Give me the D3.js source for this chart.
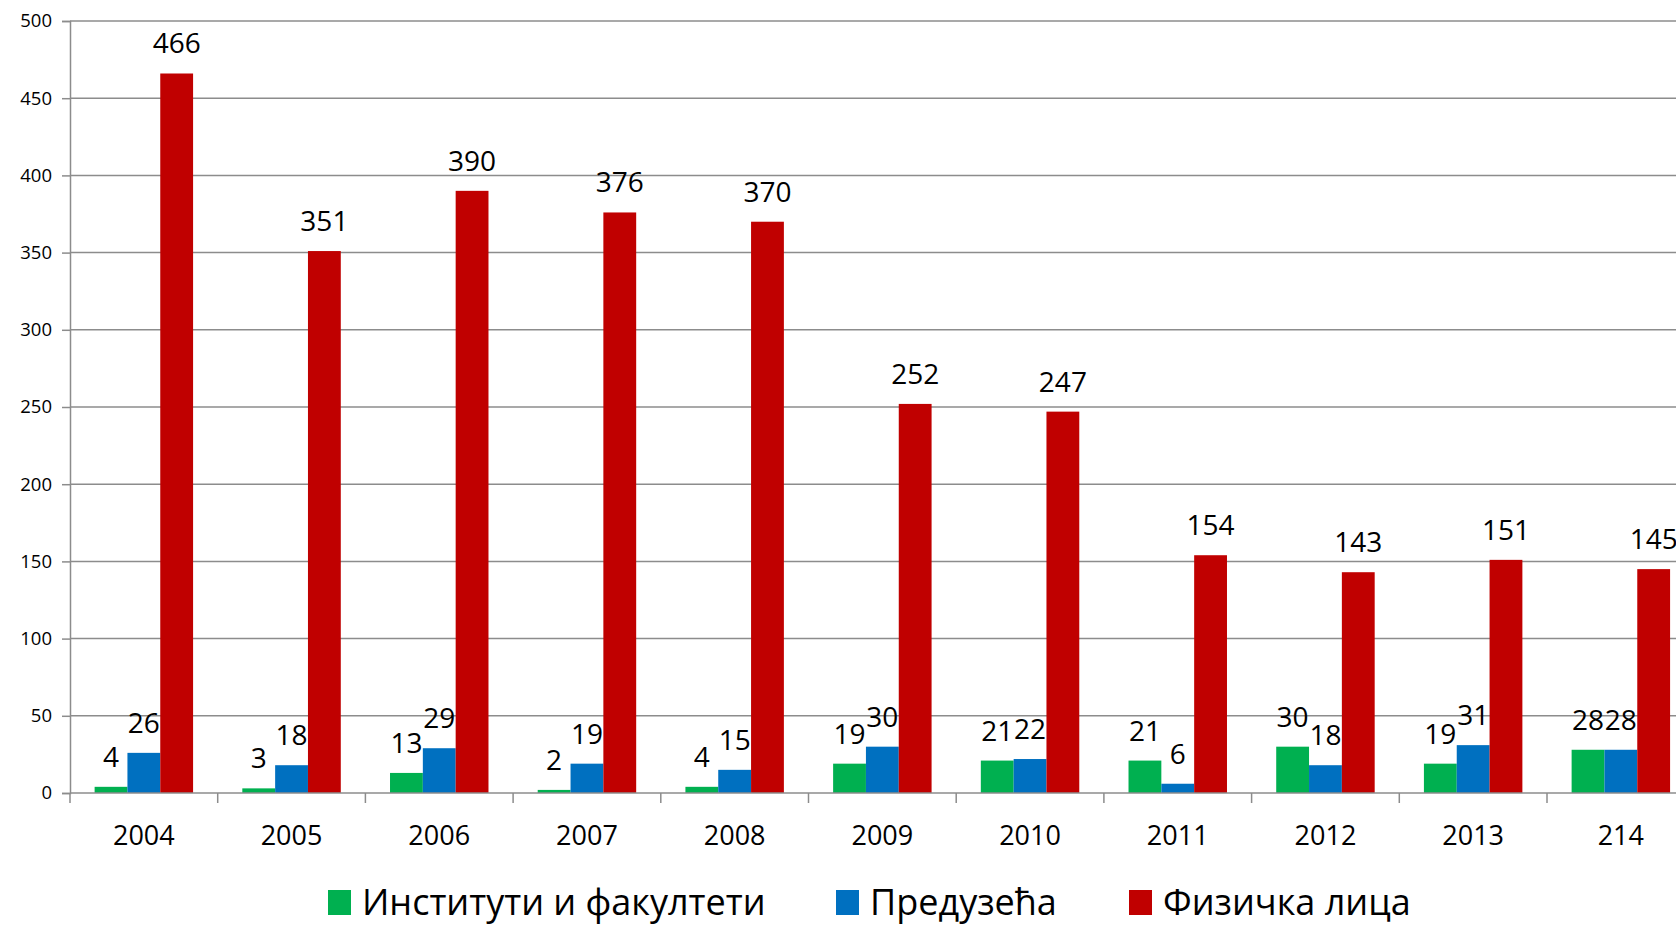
<!DOCTYPE html>
<html>
<head>
<meta charset="utf-8">
<script src="https://cdn.jsdelivr.net/npm/d3@7"></script>
<style>
  html, body { margin: 0; padding: 0; background: #fff; overflow: hidden; }
  svg { display: block; font-family: "Open Sans", sans-serif; }
</style>
</head>
<body>
<svg id="chart" width="1676" height="927"></svg>
<script>
var years = ["2004", "2005", "2006", "2007", "2008", "2009", "2010", "2011", "2012", "2013", "214"];
var seriesNames = ["Институти и факултети", "Предузећа", "Физичка лица"];
var institutes = [4, 3, 13, 2, 4, 19, 21, 21, 30, 19, 28];
var companies = [26, 18, 29, 19, 15, 30, 22, 6, 18, 31, 28];
var persons = [466, 351, 390, 376, 370, 252, 247, 154, 143, 151, 145];
var yTicks = [0, 50, 100, 150, 200, 250, 300, 350, 400, 450, 500];
var colors = ["#00b050", "#0070c0", "#c00000"];

var svg = d3.select("#chart"),
    left = 70,
    step = 147.7,
    plotTop = 21,
    plotBottom = 793;

var values = [institutes, companies, persons];

var x0 = d3.scaleBand().domain(years).range([left, left + step * years.length]),
    x1 = d3.scaleBand().domain(d3.range(3)).range([0, x0.bandwidth()]).paddingOuter(0.75),
    y = d3.scaleLinear().domain([0, 500]).range([plotBottom, plotTop]),
    color = d3.scaleOrdinal().domain(d3.range(3)).range(colors);

// gridlines
svg.append("g")
  .selectAll("line")
  .data(yTicks.slice(1))
  .join("line")
  .attr("x1", left).attr("x2", 1676)
  .attr("y1", function (d) { return y(d); })
  .attr("y2", function (d) { return y(d); })
  .attr("stroke", "#8c8c8c")
  .attr("stroke-width", 1.5);

// y axis
var yAxis = svg.append("g")
  .attr("transform", "translate(" + left + ",0)")
  .call(d3.axisLeft(y).tickValues(yTicks).tickSize(8).tickPadding(10));
yAxis.select(".domain").attr("stroke", "#8c8c8c").attr("stroke-width", 1.5);
yAxis.selectAll(".tick line").attr("stroke", "#8c8c8c").attr("stroke-width", 1.5);
yAxis.selectAll("text").attr("font-size", 18.5).attr("fill", "#000")
  .attr("font-family", "Open Sans");

// bars
var groups = svg.append("g")
  .selectAll("g")
  .data(years)
  .join("g")
  .attr("transform", function (d) { return "translate(" + x0(d) + ",0)"; });

groups.selectAll("rect")
  .data(function (d, i) { return values.map(function (s, k) { return {k: k, v: s[i]}; }); })
  .join("rect")
  .attr("x", function (d) { return x1(d.k); })
  .attr("width", x1.bandwidth())
  .attr("y", function (d) { return y(d.v); })
  .attr("height", function (d) { return plotBottom - y(d.v); })
  .attr("fill", function (d) { return color(d.k); });

groups.selectAll("text")
  .data(function (d, i) { return values.map(function (s, k) { return {k: k, v: s[i]}; }); })
  .join("text")
  .attr("x", function (d) { return x1(d.k) + x1.bandwidth() / 2; })
  .attr("y", function (d) { return y(d.v) - 20; })
  .attr("text-anchor", "middle")
  .attr("font-size", 28)
  .attr("fill", "#000")
  .text(function (d) { return d.v; });

// x axis
var xAxis = svg.append("g")
  .attr("transform", "translate(0," + plotBottom + ")");
xAxis.append("line")
  .attr("x1", left).attr("x2", 1676)
  .attr("stroke", "#8c8c8c").attr("stroke-width", 1.5);
xAxis.selectAll(".sep")
  .data(years)
  .join("line")
  .attr("class", "sep")
  .attr("x1", function (d) { return x0(d); })
  .attr("x2", function (d) { return x0(d); })
  .attr("y1", 0).attr("y2", 10)
  .attr("stroke", "#8c8c8c").attr("stroke-width", 1.5);
xAxis.selectAll("text")
  .data(years)
  .join("text")
  .attr("x", function (d) { return x0(d) + x0.bandwidth() / 2; })
  .attr("y", 52)
  .attr("text-anchor", "middle")
  .attr("font-size", 27)
  .attr("fill", "#000")
  .text(function (d) { return d; });

// legend
var legendX = [328, 836, 1129];
var legend = svg.append("g")
  .selectAll("g")
  .data(seriesNames)
  .join("g")
  .attr("transform", function (d, i) { return "translate(" + legendX[i] + ",890)"; });
legend.append("rect")
  .attr("width", 23).attr("height", 25)
  .attr("fill", function (d, i) { return colors[i]; });
legend.append("text")
  .attr("x", 34).attr("y", 25)
  .attr("font-size", 36)
  .attr("fill", "#000")
  .text(function (d) { return d; });
</script>
</body>
</html>
